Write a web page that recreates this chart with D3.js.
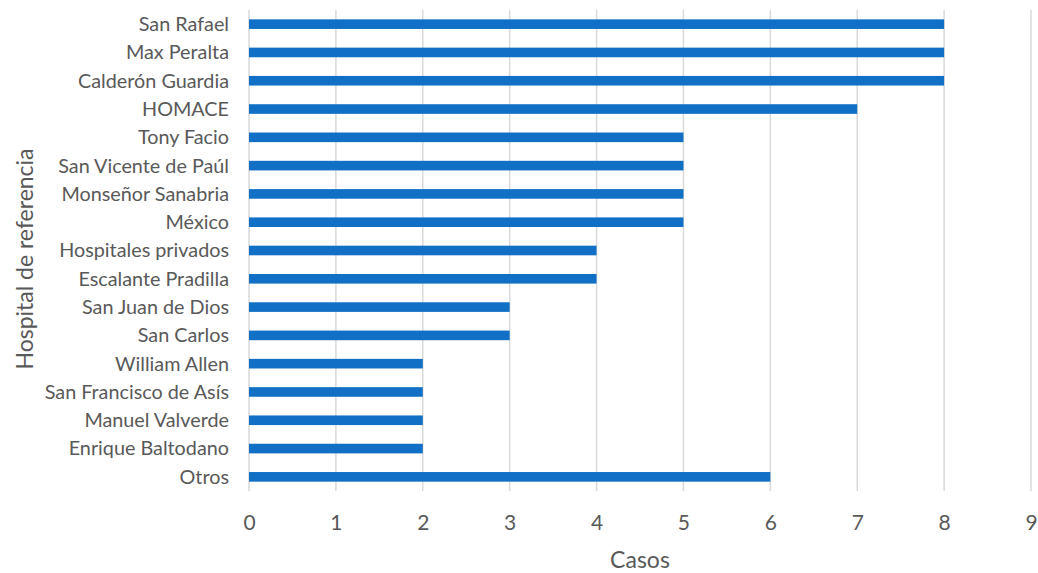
<!DOCTYPE html>
<html><head><meta charset="utf-8">
<script src="https://cdn.jsdelivr.net/npm/d3@7"></script>
<style>body{margin:0;background:#fff}svg{display:block}text{font-family:Lato,"Open Sans",sans-serif;fill:#595959}</style>
</head><body><svg id="c" width="1038" height="573"></svg>
<script>
const categories = ["San Rafael","Max Peralta","Calderón Guardia","HOMACE","Tony Facio","San Vicente de Paúl","Monseñor Sanabria","México","Hospitales privados","Escalante Pradilla","San Juan de Dios","San Carlos","William Allen","San Francisco de Asís","Manuel Valverde","Enrique Baltodano","Otros"];
const values = [8,8,8,7,5,5,5,5,4,4,3,3,2,2,2,2,6];
const xTicks = [0,1,2,3,4,5,6,7,8,9];
const xTitle = "Casos";
const yTitle = "Hospital de referencia";

const svg = d3.select("#c");
const m = {left:249, right:1031, top:10, bottom:491};
const x = d3.scaleLinear().domain([0,9]).range([m.left, m.right]);
const y = d3.scaleBand().domain(categories).range([m.top, m.bottom]).paddingInner(0.66).paddingOuter(0.33);

svg.append("g").selectAll("line").data(xTicks).join("line")
  .attr("x1",d=>x(d)).attr("x2",d=>x(d)).attr("y1",m.top).attr("y2",m.bottom)
  .attr("stroke","#d9d9d9").attr("stroke-width",1.5);

svg.append("g").selectAll("rect").data(values).join("rect")
  .attr("x",x(0)).attr("y",(d,i)=>y(categories[i]))
  .attr("width",d=>x(d)-x(0)).attr("height",y.bandwidth())
  .attr("fill","#1170c6");

const xAxis = d3.axisBottom(x).tickValues(xTicks).tickSize(0).tickPadding(0).tickFormat(d3.format("d"));
const gx = svg.append("g").attr("transform",`translate(0,${m.bottom})`).call(xAxis);
gx.select(".domain").remove();
gx.selectAll("text").attr("dy",null).attr("y",39).attr("font-size","21px").style("font-family","Lato").style("fill","#595959");

const yAxis = d3.axisLeft(y).tickSize(0).tickPadding(20);
const gy = svg.append("g").attr("transform",`translate(${m.left},0)`).call(yAxis);
gy.select(".domain").remove();
gy.selectAll("text").attr("dy","0.35em").attr("font-size","19.8px").style("font-family","Lato").style("fill","#595959");

svg.append("text").attr("x",640).attr("y",568).attr("text-anchor","middle").attr("font-size","23px").text(xTitle);
svg.append("text").attr("transform",`translate(33,259) rotate(-90)`).attr("text-anchor","middle").attr("font-size","23px").text(yTitle);
</script></body></html>
